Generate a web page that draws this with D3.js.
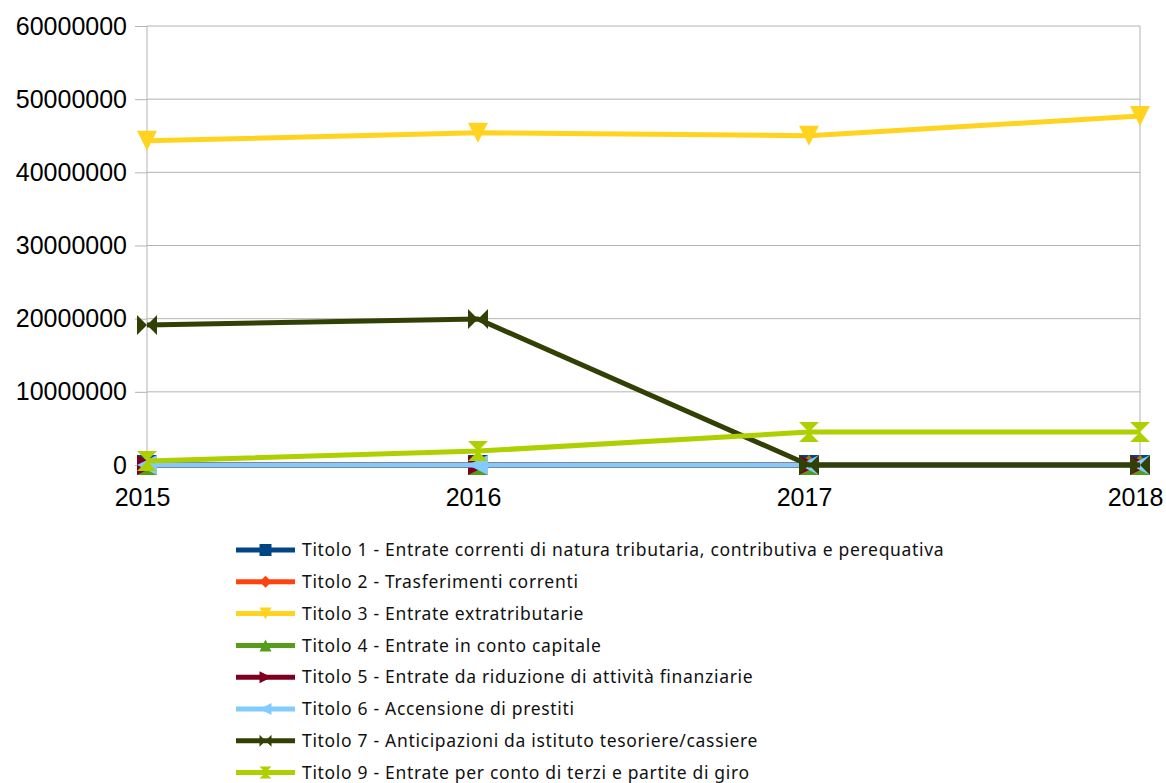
<!DOCTYPE html>
<html lang="it">
  <head>
    <meta charset="UTF-8">
    <title>Entrate per titolo</title>
    <style>
      body {
        margin: 0;
        background: #fff;
      }
      .axis text {
        font-family: 'Liberation Sans', Arial, sans-serif;
        font-size: 25px;
        fill: #000;
      }
      .legend text {
        font-family: 'Noto Sans', sans-serif;
        font-size: 17.5px;
        letter-spacing: 0.68px;
        fill: #111;
      }
    </style>
  </head>
  <body>
    <div id="chart"></div>
    <script src="https://d3js.org/d3.v7.min.js"></script>
    <script>
      const years = ['2015', '2016', '2017', '2018'];
      const yTicks = [0, 10000000, 20000000, 30000000, 40000000, 50000000, 60000000];

      const titolo1 = [0, 0, 0, 0];
      const titolo2 = [0, 0, 0, 0];
      const titolo3 = [44300000, 45400000, 45000000, 47700000];
      const titolo4 = [0, 0, 0, 0];
      const titolo5 = [0, 0, 0, 0];
      const titolo6 = [0, 0, 0, 0];
      const titolo7 = [19150000, 19950000, 0, 0];
      const titolo9 = [550000, 1900000, 4500000, 4500000];

      const seriesNames = [
        'Titolo 1 - Entrate correnti di natura tributaria, contributiva e perequativa',
        'Titolo 2 - Trasferimenti correnti',
        'Titolo 3 - Entrate extratributarie',
        'Titolo 4 - Entrate in conto capitale',
        'Titolo 5 - Entrate da riduzione di attività finanziarie',
        'Titolo 6 - Accensione di prestiti',
        'Titolo 7 - Anticipazioni da istituto tesoriere/cassiere',
        'Titolo 9 - Entrate per conto di terzi e partite di giro'
      ];
      const seriesValues = [titolo1, titolo2, titolo3, titolo4, titolo5, titolo6, titolo7, titolo9];
      const colors = ['#004586', '#ff420e', '#ffd320', '#579d1c', '#7e0021', '#83caff', '#314004', '#aecf00'];
      const markers = ['square', 'diamond', 'down', 'up', 'right', 'left', 'bowtie', 'hourglass'];

      const width = 1166, height = 783;
      const margin = {left: 147, right: 26, top: 26, bottom: 318};

      const svg = d3.select('#chart').append('svg')
        .attr('width', width)
        .attr('height', height);

      const x = d3.scalePoint()
        .domain(years)
        .range([margin.left, width - margin.right]);

      const y = d3.scaleLinear()
        .domain([0, 60000000])
        .range([height - margin.bottom, margin.top]);

      // grid
      svg.append('g')
        .selectAll('line')
        .data(yTicks)
        .join('line')
        .attr('x1', margin.left)
        .attr('x2', width - margin.right)
        .attr('y1', d => y(d))
        .attr('y2', d => y(d))
        .attr('stroke', '#b3b3b3')
        .attr('stroke-width', 1);

      svg.append('line')
        .attr('x1', width - margin.right).attr('x2', width - margin.right)
        .attr('y1', margin.top).attr('y2', height - margin.bottom)
        .attr('stroke', '#b3b3b3');

      const yAxis = svg.append('g')
        .attr('class', 'axis')
        .attr('transform', `translate(${margin.left},0)`)
        .call(d3.axisLeft(y).tickValues(yTicks).tickSize(12).tickPadding(8).tickFormat(d3.format('d')));
      yAxis.selectAll('line, path').attr('stroke', '#b3b3b3');
      yAxis.select('.domain').attr('d', `M0,${y(60000000)}V${y(0)}`);

      const xAxis = svg.append('g')
        .attr('class', 'axis')
        .attr('transform', `translate(0,${y(0)})`)
        .call(d3.axisBottom(x).tickSize(8).tickPadding(15));
      xAxis.selectAll('line, path').attr('stroke', '#b3b3b3');
      // labels sit a little left of their ticks so 2018 stays inside the page
      xAxis.selectAll('text').attr('dx', -5);

      const markerPath = (type, s) => {
        const h = s / 2;
        switch (type) {
          case 'square': return `M${-h},${-h}H${h}V${h}H${-h}Z`;
          case 'diamond': return `M0,${-h}L${h},0L0,${h}L${-h},0Z`;
          case 'down': return `M${-h},${-h}H${h}L0,${h}Z`;
          case 'up': return `M${-h},${h}H${h}L0,${-h}Z`;
          case 'right': return `M${-h},${-h}L${h},0L${-h},${h}Z`;
          case 'left': return `M${h},${-h}L${-h},0L${h},${h}Z`;
          case 'bowtie': return `M${-h},${-h}L0,0L${-h},${h}ZM${h},${-h}L0,0L${h},${h}Z`;
          case 'hourglass': return `M${-h},${-h}H${h}L0,0ZM${-h},${h}H${h}L0,0Z`;
        }
      };

      const line = d3.line()
        .x((d, i) => x(years[i]))
        .y(d => y(d));

      seriesValues.forEach((vals, k) => {
        const g = svg.append('g');
        g.append('path')
          .datum(vals)
          .attr('d', line)
          .attr('fill', 'none')
          .attr('stroke', colors[k])
          .attr('stroke-width', 5)
          .attr('stroke-linejoin', 'round');
        g.selectAll('path.m')
          .data(vals)
          .join('path')
          .attr('class', 'm')
          .attr('transform', (d, i) => `translate(${x(years[i])},${y(d)})`)
          .attr('d', markerPath(markers[k], 20))
          .attr('fill', colors[k]);
      });

      // legend
      const legend = svg.append('g')
        .attr('class', 'legend')
        .attr('transform', 'translate(236,550)');
      const rows = legend.selectAll('g')
        .data(seriesNames)
        .join('g')
        .attr('transform', (d, i) => `translate(0,${i * 31.8})`);
      rows.append('line')
        .attr('x1', 0).attr('x2', 59)
        .attr('stroke', (d, i) => colors[i])
        .attr('stroke-width', 5);
      rows.append('path')
        .attr('transform', 'translate(29.5,0)')
        .attr('d', (d, i) => markerPath(markers[i], 12))
        .attr('fill', (d, i) => colors[i]);
      rows.append('text')
        .attr('x', 66)
        .attr('dy', '0.35em')
        .text(d => d);
    </script>
  </body>
</html>
